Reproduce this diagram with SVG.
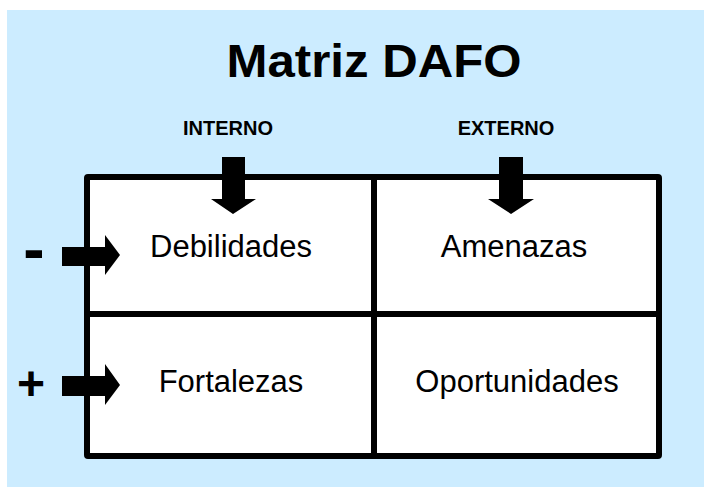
<svg xmlns="http://www.w3.org/2000/svg" width="704" height="487" viewBox="0 0 704 487">
<style>
  .t{font-family:"Liberation Sans",Arial,sans-serif;fill:#000}
  .cell{font-size:31px;text-anchor:middle}
  .hdr{font-size:20px;font-weight:bold;text-anchor:middle}
  .ar{fill:#000}
</style>
<rect x="0" y="0" width="704" height="487" fill="#fff"/>
<rect x="7" y="10" width="697" height="477" fill="#CCECFF"/>
<text class="t" x="374" y="77" font-size="46" font-weight="bold" text-anchor="middle" textLength="295" lengthAdjust="spacingAndGlyphs">Matriz DAFO</text>
<g id="box">
  <rect x="87" y="177" width="572" height="279" fill="#fff" stroke="#000" stroke-width="6" rx="1"/>
</g>
<g id="connectors">
  <line x1="374" y1="177" x2="374" y2="456" stroke="#000" stroke-width="6"/>
  <line x1="87" y1="314" x2="659" y2="314" stroke="#000" stroke-width="6"/>
  <polygon class="ar" points="222,157 245,157 245,199 256,199 233,214 211,199 222,199"/>
  <polygon class="ar" points="499,157 523,157 523,199 534,199 511,214 488,199 499,199"/>
  <polygon class="ar" points="62,247 105,247 105,235 120,255 105,275 105,266 62,266"/>
  <polygon class="ar" points="62,376 105,376 105,364 120,385 105,405 105,396 62,396"/>
</g>
<g id="interno"><text class="t hdr" x="228" y="135">INTERNO</text></g>
<g id="externo"><text class="t hdr" x="506" y="135">EXTERNO</text></g>
<g id="minus"><text class="t" x="34" y="271" font-size="64" font-weight="bold" text-anchor="middle">-</text></g>
<g id="plus"><text class="t" x="31" y="400" font-size="48" font-weight="bold" text-anchor="middle">+</text></g>
<g id="debilidades"><text class="t cell" x="231" y="257">Debilidades</text></g>
<g id="amenazas"><text class="t cell" x="514" y="257">Amenazas</text></g>
<g id="fortalezas"><text class="t cell" x="231" y="392">Fortalezas</text></g>
<g id="oportunidades"><text class="t cell" x="517" y="392">Oportunidades</text></g>
</svg>
